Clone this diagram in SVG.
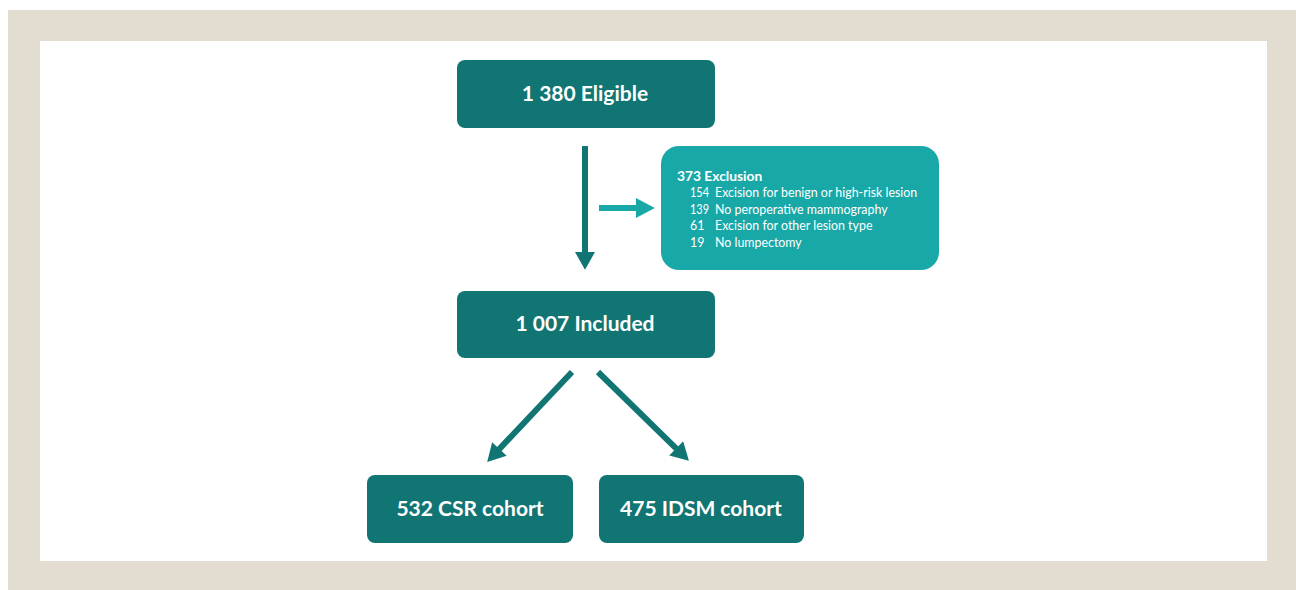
<svg xmlns="http://www.w3.org/2000/svg" width="1296" height="590" viewBox="0 0 1296 590">
<defs>
<style>
.node{fill:#117573;}
.light{fill:#18a8a8;}
.t{font-family:Lato,"Open Sans","Liberation Sans",sans-serif;font-weight:bold;fill:#ffffff;}
.big{font-size:21px;text-anchor:middle;}
.small{font-family:Lato,"Open Sans","Liberation Sans",sans-serif;fill:#ffffff;font-size:12.4px;}
.edge{stroke:#117573;stroke-width:6;fill:none;}
.edgeL{stroke:#18a8a8;stroke-width:6;fill:none;}
</style>
<marker id="ah" markerUnits="userSpaceOnUse" markerWidth="20" markerHeight="20" viewBox="0 0 16 18" refX="0.5" refY="9" orient="auto">
<path d="M0,0 L16,9 L0,18 Z" fill="#117573"/>
</marker>
<marker id="ahL" markerUnits="userSpaceOnUse" markerWidth="20" markerHeight="20" viewBox="0 0 17 18" refX="0.5" refY="9" orient="auto">
<path d="M0,0 L17,9 L0,18 Z" fill="#18a8a8"/>
</marker>
</defs>
<rect x="8" y="10" width="1288" height="580" fill="#e3ddd1"/>
<rect x="40" y="41" width="1227" height="520" fill="#ffffff"/>
<g id="connectors">
<line class="edge" x1="585" y1="146" x2="585" y2="252.5" marker-end="url(#ah)"/>
<line class="edgeL" x1="599" y1="208" x2="636.5" y2="208" marker-end="url(#ahL)"/>
<line class="edge" x1="572" y1="372" x2="499" y2="449.4" marker-end="url(#ah)"/>
<line class="edge" x1="598" y1="372" x2="676.6" y2="448.8" marker-end="url(#ah)"/>
</g>
<g id="eligible">
<rect class="node" x="457" y="60" width="258" height="68" rx="8"/>
<text class="t big" x="585" y="101">1 380 Eligible</text>
</g>
<g id="exclusion">
<rect class="light" x="661" y="146" width="278" height="124" rx="18"/>
<text class="t" x="677" y="181" font-size="13.8">373 Exclusion</text>
<text class="small" x="690" y="197" textLength="19" lengthAdjust="spacingAndGlyphs">154</text><text class="small" x="715" y="197">Excision for benign or high-risk lesion</text>
<text class="small" x="690" y="214" textLength="19" lengthAdjust="spacingAndGlyphs">139</text><text class="small" x="715" y="214">No peroperative mammography</text>
<text class="small" x="690" y="230">61</text><text class="small" x="715" y="230">Excision for other lesion type</text>
<text class="small" x="690" y="247">19</text><text class="small" x="715" y="247">No lumpectomy</text>
</g>
<g id="included">
<rect class="node" x="457" y="291" width="258" height="67" rx="8"/>
<text class="t big" x="585" y="331">1 007 Included</text>
</g>
<g id="csr">
<rect class="node" x="367" y="475" width="206" height="68" rx="8"/>
<text class="t big" x="470" y="516">532 CSR cohort</text>
</g>
<g id="idsm">
<rect class="node" x="599" y="475" width="205" height="68" rx="8"/>
<text class="t big" x="701" y="516">475 IDSM cohort</text>
</g>
</svg>
